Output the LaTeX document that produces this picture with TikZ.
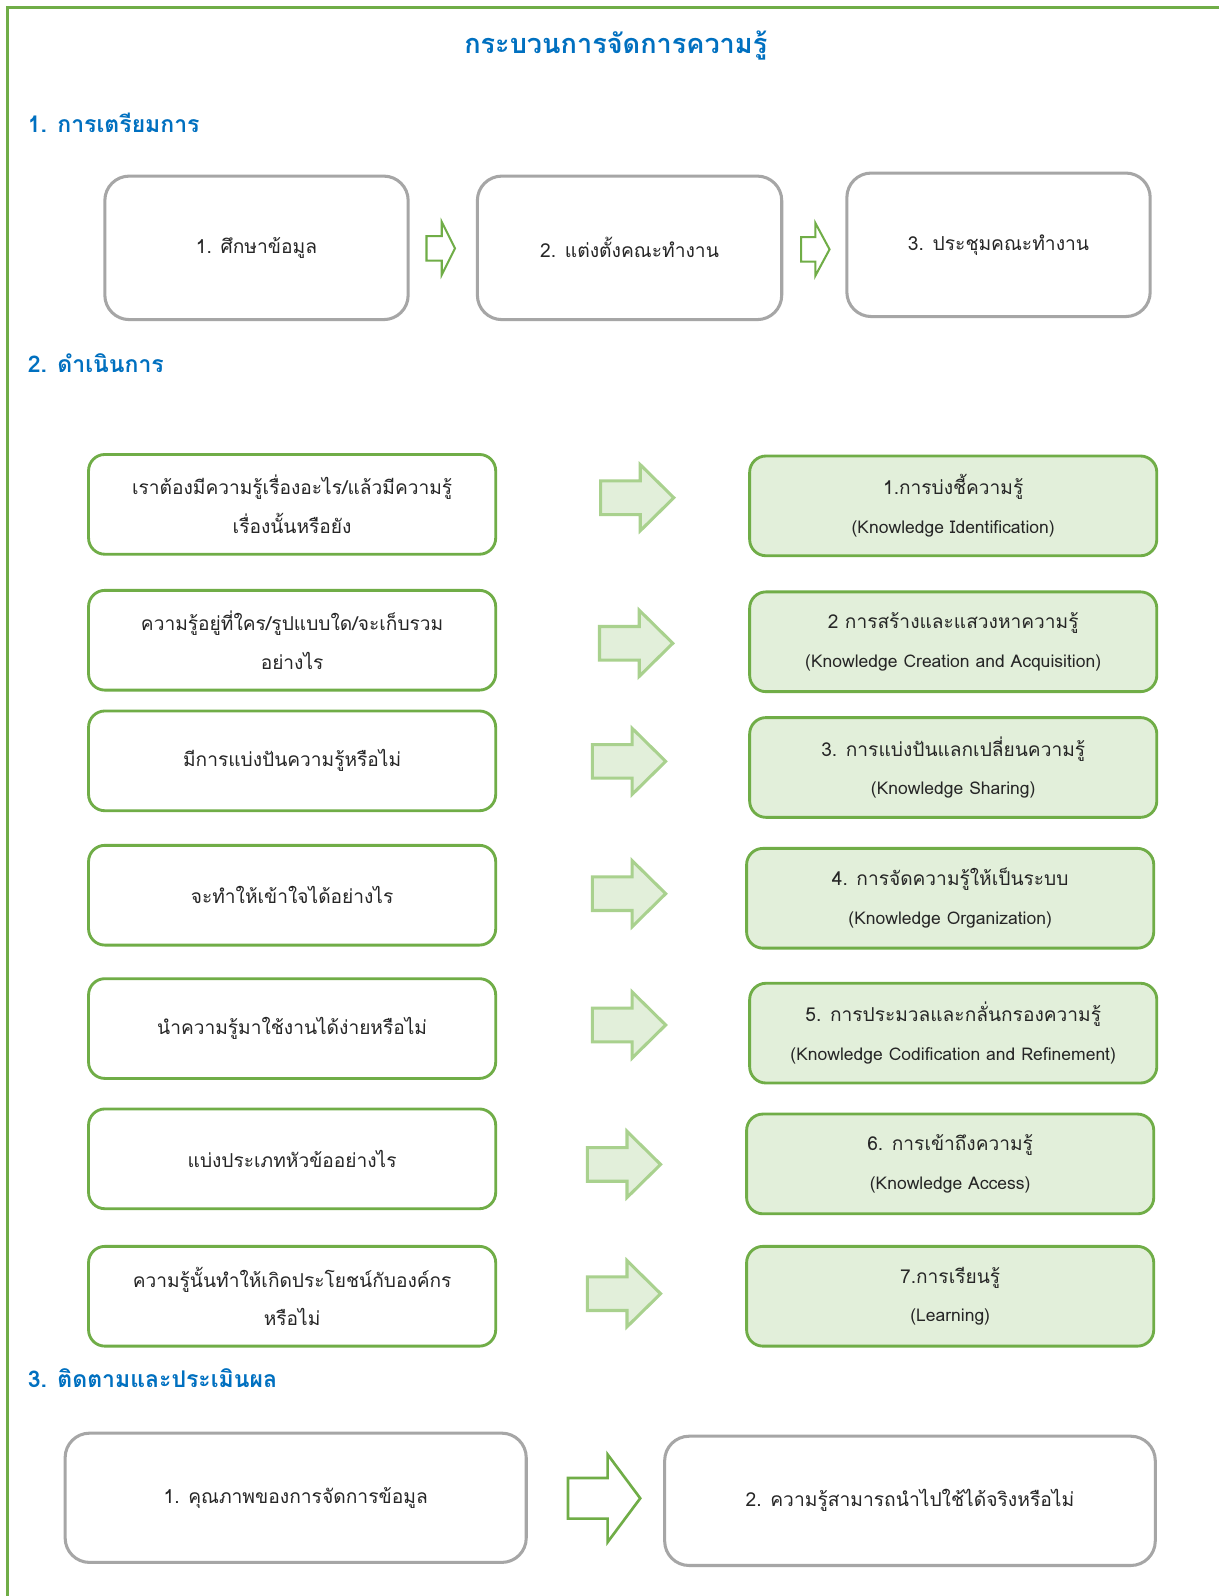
\documentclass[tikz,border=0pt]{standalone}
\usepackage{fontspec}
\setmainfont[Script=Thai]{Loma}
\definecolor{frameGreen}{HTML}{70AD47}
\definecolor{paleGreen}{HTML}{E2EFDA}
\definecolor{arrowGreen}{HTML}{A9D18E}
\definecolor{boxGray}{HTML}{A6A6A6}
\definecolor{headBlue}{HTML}{0070C0}
\definecolor{bodyText}{HTML}{262626}

% smaller size for the English gloss lines
\newcommand\engsize{\fontsize{8.6}{10}\selectfont}

% block arrow: style, left x, centre y, shaft end x, tip x, shaft half-height, head half-height
\newcommand\blockarrow[7]{%
  \draw[#1] (#2,#3-#6) -- (#4,#3-#6) -- (#4,#3-#7) -- (#5,#3)
    -- (#4,#3+#7) -- (#4,#3+#6) -- (#2,#3+#6) -- cycle;}

\begin{document}
\begin{tikzpicture}[x=0.5pt,y=-0.5pt,
  every node/.style={text=bodyText},
  heading/.style={anchor=west, text=headBlue, font=\bfseries\fontsize{11.3}{14}\selectfont, inner sep=0},
  graybox/.style={draw=boxGray, line width=1.5pt, rounded corners=12pt, fill=white,
    font=\fontsize{9.45}{12}\selectfont, align=center, inner sep=0},
  askbox/.style={draw=frameGreen, line width=1.4pt, rounded corners=8pt, fill=white,
    minimum width=200pt, minimum height=49pt, align=center, inner sep=0,
    font=\fontsize{9.4}{19}\selectfont},
  stagebox/.style={askbox, fill=paleGreen},
  outlinearrow/.style={draw=frameGreen, line width=1pt, fill=white, line join=miter},
  fatarrow/.style={draw=arrowGreen, line width=1.5pt, fill=paleGreen, line join=miter},
]
\useasboundingbox (0,0) rectangle (1198,1568);
\fill[white] (0,0) rectangle (1198,1568);

% outer frame, open on the right and at the bottom
\draw[frameGreen, line width=1.5pt] (7,1568) -- (7,7) -- (1198,7);

% title and section headings
\node[text=headBlue, font=\bfseries\fontsize{13.3}{16}\selectfont, inner sep=0] (title) at (605,45) {กระบวนการจัดการความรู้};
\node[heading] (h1) at (27,121) {1. การเตรียมการ};
\node[heading] (h2) at (27,357) {2. ดำเนินการ};
\node[heading] (h3) at (27,1354) {3. ติดตามและประเมินผล};

% section 1: preparation
\node[graybox, minimum width=149pt, minimum height=70.5pt] (p1) at (252,243.5) {1. ศึกษาข้อมูล};
\node[graybox, minimum width=149.5pt, minimum height=70.5pt] (p2) at (618.5,243.5) {2. แต่งตั้งคณะทำงาน};
\node[graybox, minimum width=149pt, minimum height=70.5pt] (p3) at (981,240.5) {3. ประชุมคณะทำงาน};
\blockarrow{outlinearrow}{419}{244}{434}{447}{12}{26}
\blockarrow{outlinearrow}{787}{245}{801}{815}{12}{26}

% section 2: questions on the left, process stages on the right
\node[askbox] (q1) at (287,495.5) {เราต้องมีความรู้เรื่องอะไร/แล้วมีความรู้\\เรื่องนั้นหรือยัง};
\node[askbox] (q2) at (287,629) {ความรู้อยู่ที่ใคร/รูปแบบใด/จะเก็บรวม\\อย่างไร};
\node[askbox] (q3) at (287,747.5) {มีการแบ่งปันความรู้หรือไม่};
\node[askbox] (q4) at (287,879.5) {จะทำให้เข้าใจได้อย่างไร};
\node[askbox] (q5) at (287,1010.5) {นำความรู้มาใช้งานได้ง่ายหรือไม่};
\node[askbox] (q6) at (287,1138.5) {แบ่งประเภทหัวข้ออย่างไร};
\node[askbox] (q7) at (287,1273.5) {ความรู้นั้นทำให้เกิดประโยชน์กับองค์กร\\หรือไม่};

\node[stagebox] (s1) at (936.5,497) {1.การบ่งชี้ความรู้\\{\engsize (Knowledge Identification)}};
\node[stagebox] (s2) at (936.5,630.5) {2 การสร้างและแสวงหาความรู้\\{\engsize (Knowledge Creation and Acquisition)}};
\node[stagebox] (s3) at (936.5,754) {3. การแบ่งปันแลกเปลี่ยนความรู้\\{\engsize (Knowledge Sharing)}};
\node[stagebox] (s4) at (933.5,882.5) {4. การจัดความรู้ให้เป็นระบบ\\{\engsize (Knowledge Organization)}};
\node[stagebox] (s5) at (936.5,1015) {5. การประมวลและกลั่นกรองความรู้\\{\engsize (Knowledge Codification and Refinement)}};
\node[stagebox] (s6) at (933.5,1143.5) {6. การเข้าถึงความรู้\\{\engsize (Knowledge Access)}};
\node[stagebox] (s7) at (933.5,1273.5) {7.การเรียนรู้\\{\engsize (Learning)}};

\blockarrow{fatarrow}{590}{489}{629}{662}{16.5}{32.5}
\blockarrow{fatarrow}{589}{632}{628}{661}{16.5}{32.5}
\blockarrow{fatarrow}{582}{748}{621}{654}{16.5}{32.5}
\blockarrow{fatarrow}{582}{878}{621}{654}{16.5}{32.5}
\blockarrow{fatarrow}{582}{1007}{621}{654}{16.5}{32.5}
\blockarrow{fatarrow}{577}{1144}{616}{649}{16.5}{32.5}
\blockarrow{fatarrow}{577}{1271}{616}{649}{16.5}{32.5}

% section 3: monitoring and evaluation
\node[graybox, minimum width=226.5pt, minimum height=63.5pt] (e1) at (290.5,1471.5) {1. คุณภาพของการจัดการข้อมูล};
\node[graybox, minimum width=241pt, minimum height=63.5pt] (e2) at (894,1474.5) {2. ความรู้สามารถนำไปใช้ได้จริงหรือไม่};
\blockarrow{outlinearrow, line width=1.3pt}{558}{1472}{597}{629}{20}{43}
\end{tikzpicture}
\end{document}
